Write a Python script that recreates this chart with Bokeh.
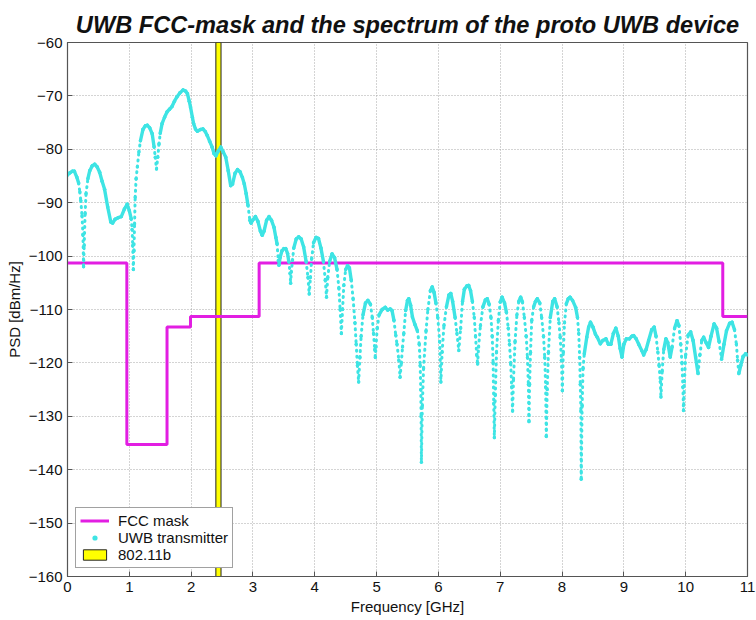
import numpy as np
from bokeh.plotting import figure
from bokeh.models import Legend, LegendItem, FixedTicker
from bokeh.core.properties import value
from bokeh.embed import file_html
from bokeh.resources import INLINE

# FCC indoor UWB emission mask (dBm/Hz), levels hold from each edge to the next
mask_edges = [0.0, 0.96, 1.61, 1.99, 3.1, 10.6, 11.0]
mask_levels = [-101.3, -135.3, -113.3, -111.3, -101.3, -111.3, -111.3]

# 802.11b band edges (GHz)
wlan_band = [2.4, 2.4835]

# Measured PSD of the prototype UWB transmitter
uwb_freq = [
    0.00, 0.04, 0.08, 0.11, 0.15, 0.18, 0.20, 0.215, 0.235, 0.25, 0.26, 0.27, 0.285,
    0.30, 0.33, 0.36, 0.40, 0.44, 0.48, 0.52, 0.56, 0.60, 0.65, 0.70, 0.73, 0.77,
    0.82, 0.87, 0.92, 0.965, 1.00, 1.03, 1.045, 1.055, 1.065, 1.075, 1.085, 1.095,
    1.11, 1.13, 1.155, 1.18, 1.22, 1.26, 1.29, 1.33, 1.37, 1.40, 1.42, 1.44, 1.46,
    1.48, 1.50, 1.53, 1.57, 1.61, 1.65, 1.69, 1.73, 1.77, 1.82, 1.87, 1.91, 1.94,
    1.97, 1.99, 2.02, 2.04, 2.07, 2.10, 2.15, 2.19, 2.23, 2.26, 2.30, 2.34, 2.37,
    2.40, 2.44, 2.48, 2.52, 2.56, 2.60, 2.64, 2.67, 2.71, 2.75, 2.79, 2.83, 2.86,
    2.89, 2.92, 2.95, 2.97, 3.00, 3.04, 3.08, 3.12, 3.15, 3.18, 3.22, 3.26, 3.30,
    3.34, 3.37, 3.39, 3.41, 3.42, 3.44, 3.47, 3.50, 3.53, 3.56, 3.58, 3.60, 3.61,
    3.62, 3.64, 3.66, 3.70, 3.74, 3.78, 3.82, 3.86, 3.89, 3.91, 3.93, 3.95, 3.98,
    4.02, 4.06, 4.10, 4.14, 4.17, 4.19, 4.21, 4.24, 4.28, 4.32, 4.36, 4.39, 4.41,
    4.43, 4.45, 4.47, 4.50, 4.53, 4.56, 4.59, 4.62, 4.65, 4.67, 4.69, 4.71, 4.73,
    4.75, 4.78, 4.82, 4.86, 4.90, 4.93, 4.95, 4.97, 4.98, 4.99, 5.01, 5.04, 5.09,
    5.14, 5.18, 5.22, 5.25, 5.28, 5.31, 5.33, 5.36, 5.38, 5.40, 5.42, 5.44, 5.47,
    5.50, 5.52, 5.55, 5.58, 5.62, 5.66, 5.69, 5.705, 5.715, 5.72, 5.725, 5.74,
    5.76, 5.80, 5.83, 5.87, 5.90, 5.93, 5.96, 5.99, 6.02, 6.04, 6.06, 6.09, 6.13,
    6.17, 6.20, 6.23, 6.27, 6.30, 6.33, 6.36, 6.39, 6.42, 6.46, 6.49, 6.52, 6.55,
    6.58, 6.60, 6.62, 6.635, 6.65, 6.68, 6.72, 6.76, 6.79, 6.82, 6.85, 6.87, 6.885,
    6.895, 6.905, 6.92, 6.94, 6.97, 7.00, 7.03, 7.07, 7.10, 7.13, 7.15, 7.17,
    7.185, 7.20, 7.215, 7.24, 7.27, 7.30, 7.33, 7.36, 7.39, 7.42, 7.44, 7.455,
    7.465, 7.475, 7.49, 7.51, 7.54, 7.57, 7.60, 7.64, 7.67, 7.70, 7.72, 7.735,
    7.745, 7.76, 7.78, 7.81, 7.85, 7.88, 7.92, 7.95, 7.97, 7.99, 8.005, 8.02, 8.04,
    8.07, 8.10, 8.13, 8.17, 8.22, 8.25, 8.27, 8.285, 8.295, 8.305, 8.31, 8.325,
    8.34, 8.36, 8.40, 8.43, 8.46, 8.50, 8.54, 8.57, 8.62, 8.66, 8.71, 8.75, 8.79,
    8.83, 8.87, 8.91, 8.94, 8.97, 9.00, 9.04, 9.09, 9.13, 9.16, 9.20, 9.24, 9.29,
    9.32, 9.36, 9.40, 9.45, 9.49, 9.52, 9.55, 9.57, 9.59, 9.60, 9.62, 9.645, 9.68,
    9.71, 9.75, 9.78, 9.82, 9.86, 9.89, 9.92, 9.94, 9.955, 9.965, 9.98, 10.00,
    10.04, 10.08, 10.12, 10.16, 10.20, 10.23, 10.26, 10.29, 10.33, 10.37, 10.41,
    10.46, 10.50, 10.54, 10.58, 10.62, 10.66, 10.71, 10.75, 10.79, 10.82, 10.84,
    10.86, 10.89, 10.93, 10.97, 11.00,
]
uwb_psd = [
    -84.8, -84.4, -84.1, -84.1, -85.2, -86.3, -88.0, -89.6, -92.5, -96.0, -102.0, -98.0, -92.0,
    -88.3, -85.5, -84.0, -83.1, -82.8, -83.3, -84.3, -86.0, -87.5, -90.8, -93.6, -93.8, -93.1,
    -92.8, -92.6, -91.2, -90.3, -91.5, -93.0, -95.0, -98.0, -102.5, -99.0, -94.0, -89.0,
    -85.5, -83.3, -80.5, -78.4, -76.3, -75.6, -75.5, -76.0, -77.1, -79.5, -81.5, -83.7, -81.5,
    -79.0, -77.0, -75.2, -74.0, -73.0, -72.5, -72.0, -71.0, -70.2, -69.4, -68.9, -69.1, -69.6,
    -71.0, -72.1, -74.0, -75.2, -76.2, -76.6, -76.3, -76.2, -76.7, -77.4, -78.5, -79.6, -80.8,
    -81.2, -80.3, -79.6, -80.5, -81.5, -84.0, -86.8, -86.5, -84.5, -83.8, -84.2, -85.3, -86.5,
    -88.3, -90.5, -93.3, -93.8, -93.2, -92.6, -93.5, -95.3, -96.1, -95.3, -93.3, -92.6, -93.3,
    -94.6, -96.5, -97.7, -100.8, -101.7, -100.2, -99.0, -98.6, -98.6, -99.5, -101.0, -103.2, -105.1,
    -103.0, -100.8, -98.5, -96.8, -96.4, -96.8, -98.3, -101.0, -104.0, -107.1, -104.0, -100.5, -97.5,
    -96.5, -96.7, -98.5, -101.0, -104.5, -107.7, -104.0, -101.0, -99.6, -100.3, -102.5, -106.0, -110.0,
    -114.5, -110.0, -105.5, -102.5, -101.8, -102.2, -104.5, -108.0, -112.5, -116.5, -120.5, -123.6, -119.0,
    -115.0, -111.0, -108.8, -108.3, -109.0, -111.5, -114.5, -117.5, -119.0, -117.0, -113.5, -111.0, -110.0,
    -109.6, -110.1, -109.9, -110.2, -112.0, -114.8, -116.5, -119.5, -122.7, -120.0, -117.0, -114.5, -110.2,
    -108.3, -108.0, -109.2, -111.4, -112.8, -114.0, -116.5, -120.5, -125.0, -130.0, -138.6, -128.0,
    -121.0, -114.0, -110.0, -106.5, -105.8, -106.8, -108.8, -111.5, -116.0, -123.6, -118.0, -113.0, -109.5,
    -107.3, -107.0, -108.5, -111.5, -114.5, -117.7, -113.5, -108.5, -106.2, -105.6, -105.5, -106.5, -108.5,
    -111.5, -115.0, -118.5, -120.2, -117.0, -113.0, -109.5, -108.2, -108.0, -109.0, -111.5, -115.0, -120.0,
    -127.6, -134.0, -126.0, -118.0, -112.0, -108.6, -107.7, -108.8, -110.5, -113.5, -116.5, -120.2,
    -124.5, -129.0, -123.0, -116.0, -111.0, -108.5, -107.7, -108.6, -111.5, -115.0, -119.0, -124.0,
    -131.0, -124.0, -118.0, -112.0, -109.5, -108.5, -108.0, -108.8, -111.5, -115.0, -119.0, -124.5,
    -133.8, -125.0, -118.0, -111.5, -108.5, -108.0, -109.5, -112.5, -115.2, -119.5, -125.2, -118.0, -112.5,
    -108.9, -108.0, -107.7, -108.3, -109.6, -111.5, -114.5, -119.0, -124.0, -129.0, -141.8, -128.0,
    -121.0, -118.3, -115.2, -113.3, -112.4, -113.3, -114.6, -115.2, -116.4, -115.8, -115.5, -116.5, -116.5,
    -114.5, -113.5, -115.0, -117.3, -118.9, -116.5, -115.5, -115.5, -115.0, -114.9, -115.5, -116.5, -117.7,
    -118.5, -117.5, -115.8, -113.8, -113.3, -115.0, -118.0, -120.5, -123.5, -126.4, -121.5, -117.5, -115.5,
    -116.2, -118.9, -117.0, -113.5, -112.1, -113.0, -116.5, -120.0, -124.5, -128.9, -123.5, -118.5,
    -114.8, -114.2, -115.8, -118.9, -122.0, -118.5, -115.8, -115.2, -116.2, -117.1, -115.0,
    -112.7, -113.5, -116.0, -119.3, -116.5, -114.0, -112.6, -112.4, -113.8, -116.5, -119.5,
    -122.0, -120.5, -118.8, -118.3, -118.5,
]

x_ticks = list(range(0, 12))
y_ticks = list(range(-160, -50, 10))

FONT = "Liberation Sans"
CYAN = "#3ee4e4"
MAGENTA = "#e21ee2"

X_MIN, X_MAX = 0, 11
Y_MIN, Y_MAX = -160, -60
FRAME_W, FRAME_H = 680, 534

p = figure(
    width=756, height=620,
    x_range=(X_MIN, X_MAX), y_range=(Y_MIN, Y_MAX),
    output_backend="svg", toolbar_location=None,
    min_border_left=67, min_border_right=9, min_border_top=42, min_border_bottom=44,
    background_fill_color="white", border_fill_color="white",
)

p.title.text = "UWB FCC-mask and the spectrum of the proto UWB device"
p.title.text_font = FONT
p.title.text_font_size = "23.6px"
p.title.text_font_style = "bold italic"
p.title.align = "center"
p.title.text_color = "#111111"

p.outline_line_color = "#555555"
p.outline_line_width = 1.2

# axes with inward ticks
for ax in (p.xaxis[0], p.yaxis[0]):
    ax.major_label_text_font = FONT
    ax.major_label_text_font_size = "15px"
    ax.major_label_text_color = "#111111"
    ax.axis_label_text_font = FONT
    ax.axis_label_text_font_size = "15px"
    ax.axis_label_text_font_style = "normal"
    ax.axis_label_text_color = "#111111"
    ax.axis_line_color = "#555555"
    ax.major_tick_line_color = "#555555"
    ax.major_tick_in = 5
    ax.major_tick_out = 0
    ax.minor_tick_line_color = None

p.xaxis.ticker = FixedTicker(ticks=x_ticks)
p.yaxis.ticker = FixedTicker(ticks=y_ticks)
p.xaxis.axis_label = "Frequency [GHz]"
p.yaxis.axis_label = "PSD [dBm/Hz]"
p.xaxis.major_label_standoff = 5
p.yaxis.major_label_standoff = 5
p.xaxis.axis_label_standoff = 3
p.yaxis.axis_label_standoff = 3

p.grid.grid_line_color = "#a8a8a8"
p.grid.grid_line_dash = "1 2"
p.grid.grid_line_width = 1
p.xgrid.ticker = FixedTicker(ticks=x_ticks)
p.ygrid.ticker = FixedTicker(ticks=y_ticks)

# 802.11b band as a full-height bar
band = p.quad(left=[wlan_band[0]], right=[wlan_band[1]], bottom=[Y_MIN], top=[Y_MAX],
              fill_color="#ffff00", line_color="#222222", line_width=1)

# FCC mask
mask = p.step(mask_edges, mask_levels, mode="after", line_color=MAGENTA, line_width=3)

# UWB spectrum: gentle stretches render as a solid trace, steep stretches
# (deep notches, where the samples spread apart) render as dotted runs
f = np.asarray(uwb_freq)
v = np.asarray(uwb_psd)
dx_px = np.diff(f) * FRAME_W / (X_MAX - X_MIN)
dy_px = np.diff(v) * FRAME_H / (Y_MAX - Y_MIN)
steep = np.abs(dy_px) > 7.0 * np.abs(dx_px)

p.segment(f[:-1][~steep], v[:-1][~steep], f[1:][~steep], v[1:][~steep],
          line_color=CYAN, line_width=3.4, line_cap="round")
p.segment(f[:-1][steep], v[:-1][steep], f[1:][steep], v[1:][steep],
          line_color=CYAN, line_width=3.0, line_cap="round", line_dash=value("1 5"))
uwb_dots = p.scatter(uwb_freq, uwb_psd, size=3.4, fill_color=CYAN, line_color=None)

legend = Legend(
    items=[
        LegendItem(label="FCC mask", renderers=[mask]),
        LegendItem(label="UWB transmitter", renderers=[uwb_dots]),
        LegendItem(label="802.11b", renderers=[band]),
    ],
    location=(8, 8),
    margin=0,
    padding=4,
    spacing=0,
    label_text_font=FONT,
    label_text_font_size="15px",
    label_text_color="#111111",
    label_height=17,
    label_standoff=9,
    glyph_width=29,
    glyph_height=13,
    border_line_color="#444444",
    border_line_width=1,
    background_fill_color="white",
    background_fill_alpha=1.0,
)
p.add_layout(legend)

open("out.html", "w").write(file_html(p, INLINE))
